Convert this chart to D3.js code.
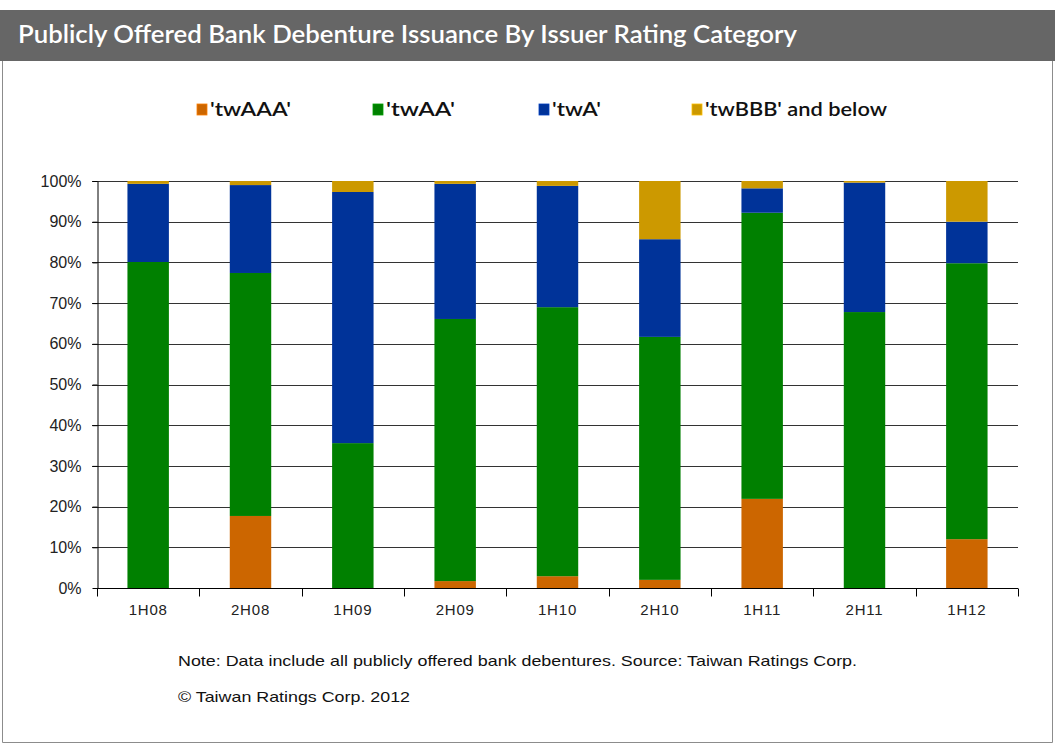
<!DOCTYPE html>
<html>
<head>
<meta charset="utf-8">
<script src="https://cdn.jsdelivr.net/npm/d3@7"></script>
<style>
  body { margin: 0; background: #fff; }
  svg { display: block; }
</style>
</head>
<body>
<div id="chart"></div>
<script>
// Data
var periods = ["1H08", "2H08", "1H09", "2H09", "1H10", "2H10", "1H11", "2H11", "1H12"];
var twAAA = [0, 17.7, 0, 1.7, 2.9, 2.0, 21.9, 0, 12.0];
var twAA  = [80.1, 59.7, 35.6, 64.4, 66.1, 59.7, 70.3, 67.8, 67.8];
var twA   = [19.2, 21.6, 61.7, 33.2, 29.8, 24.0, 6.0, 31.8, 10.2];
var twBBB = [0.7, 1.0, 2.7, 0.7, 1.2, 14.3, 1.8, 0.4, 10.0];
var seriesNames = ["'twAAA'", "'twAA'", "'twA'", "'twBBB' and below"];
var yTicks = [0, 10, 20, 30, 40, 50, 60, 70, 80, 90, 100];

var colors = ["#CC6600", "#008000", "#003399", "#CC9900"];
var W = 1055, H = 745;

var svg = d3.select("#chart").append("svg")
    .attr("width", W)
    .attr("height", H);

// Title bar
svg.append("rect")
    .attr("x", 0).attr("y", 10)
    .attr("width", W).attr("height", 51)
    .attr("fill", "#666666");
svg.append("text")
    .attr("x", 18).attr("y", 43)
    .attr("fill", "#fff")
    .attr("font-family", "Lato, 'Open Sans', sans-serif")
    .attr("font-size", 24)
    .attr("font-weight", 600)
    .attr("textLength", 779)
    .attr("lengthAdjust", "spacingAndGlyphs")
    .text("Publicly Offered Bank Debenture Issuance By Issuer Rating Category");

// frame
svg.append("path")
    .attr("d", `M2.5,61 V742.5 H1052.5 V61`)
    .attr("fill", "none")
    .attr("stroke", "#8c8c8c")
    .attr("stroke-width", 1);

// Scales
var margin = { left: 97, right: 1018, top: 181, bottom: 588 };
var x = d3.scaleBand().domain(periods).range([margin.left, margin.right]).paddingInner(0.595).paddingOuter(0.2975);
var xOuter = d3.scaleBand().domain(periods).range([margin.left, margin.right]);
var y = d3.scaleLinear().domain([0, 100]).range([margin.bottom, margin.top]);

// Gridlines
svg.append("g")
    .selectAll("line")
    .data(yTicks.filter(d => d > 0))
    .join("line")
    .attr("x1", margin.left - 5).attr("x2", margin.right)
    .attr("y1", d => Math.round(y(d)) + 0.5).attr("y2", d => Math.round(y(d)) + 0.5)
    .attr("stroke", "#333")
    .attr("stroke-width", 1.2);

// Stacked data
var table = periods.map((p, i) => ({ period: p, AAA: twAAA[i], AA: twAA[i], A: twA[i], BBB: twBBB[i] }));
var keys = ["AAA", "AA", "A", "BBB"];
var stack = d3.stack().keys(keys)(table);

svg.append("g")
    .selectAll("g")
    .data(stack)
    .join("g")
    .attr("fill", (d, i) => colors[i])
    .selectAll("rect")
    .data(d => d)
    .join("rect")
    .attr("x", d => x(d.data.period))
    .attr("width", x.bandwidth())
    .attr("y", d => y(d[1]))
    .attr("height", d => y(d[0]) - y(d[1]));

// Y axis
var yAxis = svg.append("g")
    .attr("transform", `translate(${margin.left + 0.5},0)`)
    .call(d3.axisLeft(y).tickValues(yTicks).tickFormat(d => d + "%").tickSize(5).tickSizeOuter(0));
yAxis.select(".domain").attr("stroke", "#000");
yAxis.selectAll(".tick line").attr("stroke", "#000");
yAxis.selectAll("text")
    .attr("font-family", "'Liberation Sans', Arial, sans-serif")
    .attr("font-size", 16)
    .attr("fill", "#222")
    .attr("x", -16);

// X axis
var xAxisG = svg.append("g")
    .attr("transform", `translate(0,${margin.bottom + 0.5})`);
xAxisG.append("line")
    .attr("x1", margin.left).attr("x2", margin.right)
    .attr("stroke", "#000");
xAxisG.selectAll("line.tk")
    .data(periods.concat(["end"]))
    .join("line")
    .attr("class", "tk")
    .attr("x1", (d, i) => Math.round(margin.left + i * xOuter.step()) + 0.5)
    .attr("x2", (d, i) => Math.round(margin.left + i * xOuter.step()) + 0.5)
    .attr("y1", 0).attr("y2", 8)
    .attr("stroke", "#000");
xAxisG.selectAll("text")
    .data(periods)
    .join("text")
    .attr("x", d => xOuter(d) + xOuter.bandwidth() / 2)
    .attr("y", 26)
    .attr("text-anchor", "middle")
    .attr("font-family", "'Liberation Sans', Arial, sans-serif")
    .attr("font-size", 15)
    .attr("letter-spacing", 0.8)
    .attr("fill", "#222")
    .text(d => d);

// Legend
var legendX = [197, 373, 539, 692];
var legendW = [81, 69, 49, 182];
var legend = svg.append("g")
    .selectAll("g")
    .data(seriesNames)
    .join("g")
    .attr("transform", (d, i) => `translate(${legendX[i]},104)`);
legend.append("rect")
    .attr("width", 10).attr("height", 11)
    .attr("fill", (d, i) => colors[i])
    .attr("stroke", (d, i) => d3.color(colors[i]).brighter(0.6))
    .attr("stroke-width", 0.8);
legend.append("text")
    .attr("x", 13).attr("y", 12)
    .attr("font-family", "Lato, 'Open Sans', sans-serif")
    .attr("font-size", 19)
    .attr("font-weight", 600)
    .attr("fill", "#111")
    .attr("textLength", (d, i) => legendW[i])
    .attr("lengthAdjust", "spacingAndGlyphs")
    .text(d => d);

// Notes
svg.append("text")
    .attr("x", 178).attr("y", 666)
    .attr("font-family", "'Liberation Sans', Arial, sans-serif")
    .attr("font-size", 15)
    .attr("fill", "#111")
    .attr("textLength", 679)
    .attr("lengthAdjust", "spacingAndGlyphs")
    .text("Note: Data include all publicly offered bank debentures. Source: Taiwan Ratings Corp.");
svg.append("text")
    .attr("x", 178).attr("y", 702)
    .attr("font-family", "'Liberation Sans', Arial, sans-serif")
    .attr("font-size", 15)
    .attr("fill", "#111")
    .attr("textLength", 232)
    .attr("lengthAdjust", "spacingAndGlyphs")
    .text("\u00A9 Taiwan Ratings Corp. 2012");
</script>
</body>
</html>
